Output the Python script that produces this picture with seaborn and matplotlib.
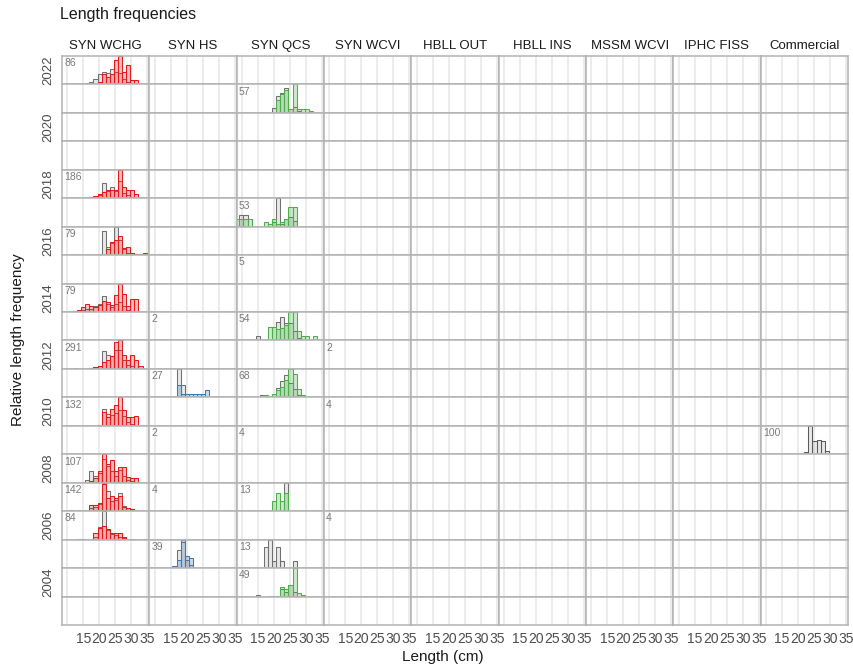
import numpy as np
import matplotlib
matplotlib.use("Agg")
import matplotlib.pyplot as plt
import seaborn as sns

sns.set_theme(style="whitegrid")
plt.rcParams["font.family"] = ["Liberation Sans", "DejaVu Sans"]

surveys = ["SYN WCHG", "SYN HS", "SYN QCS", "SYN WCVI", "HBLL OUT",
           "HBLL INS", "MSSM WCVI", "IPHC FISS", "Commercial"]
years = list(range(2022, 2002, -1))
survey_colours = ["#E41A1C", "#377EB8", "#4DAF4A", "#984EA3", "#FF7F00",
                  "#FFD92F", "#A65628", "#F781BF", "#8c8c8c"]
female_colour = "#8c8c8c"

# lower edge of each length bin (cm)
length_bins = [7.8, 9.1, 10.4, 11.7, 13.0, 14.2, 15.5, 16.8, 18.1, 19.4, 20.7,
               22.0, 23.2, 24.5, 25.8, 27.1, 28.4, 29.7, 30.9, 32.2, 33.5, 34.8]
bin_width = 1.285

# relative frequency per bin, males (m) and females (f)
wchg_2022_m = [0,0,0,0,0,0,0,0,0,8,35,25,35,85,100,45,70,15,15,0,0,0]
wchg_2022_f = [0,0,0,0,0,0,6,8,20,35,45,40,55,45,40,20,10,0,0,0,0,0]
wchg_2018_m = [0,0,0,0,0,0,0,3,8,15,22,28,28,30,100,40,28,28,15,0,0,0]
wchg_2018_f = [0,0,0,0,0,0,0,0,0,10,55,25,38,25,60,20,10,5,0,0,0,0]
wchg_2016_m = [0,0,0,0,0,0,0,0,0,0,0,20,45,55,68,25,30,8,5,0,8,0]
wchg_2016_f = [0,0,0,0,0,0,0,0,0,5,85,30,42,100,55,20,8,8,5,3,0,0]
wchg_2014_m = [0,0,0,0,7,18,28,22,18,25,40,37,25,60,100,62,20,45,45,0,0,0]
wchg_2014_f = [0,0,0,4,5,8,10,12,20,30,55,30,18,30,35,20,8,0,0,0,0,0]
wchg_2012_m = [0,0,0,0,0,0,0,4,7,12,25,30,45,95,100,50,32,48,32,12,0,0]
wchg_2012_f = [0,0,0,3,0,0,0,5,6,10,62,48,45,65,65,30,15,10,5,0,0,0]
wchg_2010_m = [0,0,0,0,0,0,0,0,0,4,48,30,58,75,100,55,30,30,33,0,0,0]
wchg_2010_f = [0,0,0,0,0,0,0,0,0,3,60,40,38,45,55,35,15,8,0,0,0,0]
wchg_2008_m = [0,0,0,0,0,0,0,5,15,40,100,65,80,42,55,55,20,15,15,0,0,0]
wchg_2008_f = [0,0,0,0,0,0,8,42,25,35,85,60,40,25,45,25,10,5,0,0,0,0]
wchg_2007_m = [0,0,3,0,3,0,0,22,22,30,95,45,55,45,55,15,10,8,0,0,0,0]
wchg_2007_f = [0,0,0,0,0,0,3,10,15,25,100,72,35,40,65,20,10,8,0,0,0,0]
wchg_2006_m = [0,0,0,0,0,3,0,0,25,40,48,36,25,25,22,8,0,3,0,0,0,0]
wchg_2006_f = [0,0,0,0,3,3,0,0,10,45,100,35,20,15,10,5,0,0,0,0,3,0]
hs_2011_m = [0,0,0,0,0,0,0,45,12,12,12,12,12,12,25,0,0,0,0,0,0,0]
hs_2011_f = [0,0,0,0,0,0,0,100,45,0,0,0,0,0,0,0,0,0,0,0,0,0]
hs_2005_m = [0,0,0,0,0,0,6,28,100,42,35,0,0,0,0,0,0,0,0,0,0,0]
hs_2005_f = [0,0,0,0,0,0,0,64,90,30,10,0,0,0,0,0,0,0,0,0,0,0]
qcs_2021_m = [0,0,0,0,0,0,0,0,0,0,45,65,80,12,100,12,12,15,5,0,0,0]
qcs_2021_f = [0,0,0,0,0,0,0,0,0,18,58,70,88,15,20,5,0,0,0,0,0,0]
qcs_2017_m = [27,27,27,27,0,0,0,15,10,27,10,15,27,68,68,0,0,0,0,0,0,0]
qcs_2017_f = [0,40,40,0,0,0,0,0,0,15,100,10,27,35,20,0,0,0,0,0,0,0]
qcs_2013_m = [0,0,0,0,0,0,0,0,48,48,40,45,55,100,100,32,15,15,0,15,0,0]
qcs_2013_f = [0,0,0,0,0,15,0,0,0,0,64,82,60,62,35,10,0,0,0,0,0,0]
qcs_2011_m = [0,0,0,0,0,0,0,10,0,12,25,35,62,100,84,28,10,0,0,0,0,0]
qcs_2011_f = [0,0,0,0,0,0,10,5,0,0,33,57,77,50,30,10,0,0,0,0,0,0]
qcs_2007_m = [0,0,0,0,0,0,0,0,0,35,65,35,65,0,0,0,0,0,0,0,0,0]
qcs_2007_f = [0,0,0,0,0,0,0,0,0,0,0,0,100,0,0,0,0,0,0,0,0,0]
qcs_2005_m = [0,0,0,0,0,0,0,0,0,0,0,0,0,0,0,0,0,0,0,0,0,0]
qcs_2005_f = [0,0,0,0,0,0,0,75,100,25,75,25,0,0,25,0,0,0,0,0,0,0]
qcs_2004_m = [0,0,0,0,0,0,0,0,0,0,3,32,25,42,100,12,5,0,0,0,0,0]
qcs_2004_f = [0,0,0,0,0,4,0,0,3,3,3,25,15,40,15,0,0,0,0,0,0,0]
comm_2009 = [0,0,0,0,0,0,0,0,0,2,2,8,100,48,50,48,10,2,2,0,0,0]

# survey, year, number of fish, males, females
cells = [
    ("SYN WCHG", 2022, 86, wchg_2022_m, wchg_2022_f),
    ("SYN WCHG", 2018, 186, wchg_2018_m, wchg_2018_f),
    ("SYN WCHG", 2016, 79, wchg_2016_m, wchg_2016_f),
    ("SYN WCHG", 2014, 79, wchg_2014_m, wchg_2014_f),
    ("SYN WCHG", 2012, 291, wchg_2012_m, wchg_2012_f),
    ("SYN WCHG", 2010, 132, wchg_2010_m, wchg_2010_f),
    ("SYN WCHG", 2008, 107, wchg_2008_m, wchg_2008_f),
    ("SYN WCHG", 2007, 142, wchg_2007_m, wchg_2007_f),
    ("SYN WCHG", 2006, 84, wchg_2006_m, wchg_2006_f),
    ("SYN HS", 2013, 2, None, None),
    ("SYN HS", 2011, 27, hs_2011_m, hs_2011_f),
    ("SYN HS", 2009, 2, None, None),
    ("SYN HS", 2007, 4, None, None),
    ("SYN HS", 2005, 39, hs_2005_m, hs_2005_f),
    ("SYN QCS", 2021, 57, qcs_2021_m, qcs_2021_f),
    ("SYN QCS", 2017, 53, qcs_2017_m, qcs_2017_f),
    ("SYN QCS", 2015, 5, None, None),
    ("SYN QCS", 2013, 54, qcs_2013_m, qcs_2013_f),
    ("SYN QCS", 2011, 68, qcs_2011_m, qcs_2011_f),
    ("SYN QCS", 2009, 4, None, None),
    ("SYN QCS", 2007, 13, qcs_2007_m, qcs_2007_f),
    ("SYN QCS", 2005, 13, qcs_2005_m, qcs_2005_f),
    ("SYN QCS", 2004, 49, qcs_2004_m, qcs_2004_f),
    ("SYN WCVI", 2012, 2, None, None),
    ("SYN WCVI", 2010, 4, None, None),
    ("SYN WCVI", 2006, 4, None, None),
    ("Commercial", 2009, 100, None, comm_2009),
]

edges = np.append(length_bins, length_bins[-1] + bin_width).tolist()
centres = np.array(length_bins) + bin_width / 2


def draw_hist(ax, values, colour, edge, peak, alpha):
    vals = np.asarray(values, dtype=float)
    keep = vals > 0
    if not keep.any():
        return
    sns.histplot(x=list(centres[keep]), weights=list(vals[keep] / peak), bins=edges,
                 color=colour, edgecolor=edge, alpha=alpha, linewidth=0.75, ax=ax)
    for p in list(ax.patches):
        if p.get_height() == 0:
            p.remove()


fig = plt.figure(figsize=(8.54, 6.69), dpi=100)
gs = fig.add_gridspec(len(years), len(surveys), left=62 / 854, right=848 / 854,
                      top=1 - 56 / 669, bottom=1 - 625 / 669, hspace=0, wspace=0)
axes = gs.subplots(sharex=True)

for survey, year, n, male, female in cells:
    r, c = years.index(year), surveys.index(survey)
    ax = axes[r, c]
    if male is not None or female is not None:
        peak = max(max(male or [0]), max(female or [0]))
        if female is not None:
            edge = "#5a5a5a" if survey == "Commercial" else "#707070"
            draw_hist(ax, female, female_colour, edge, peak, 0.2)
        if male is not None:
            draw_hist(ax, male, survey_colours[c], survey_colours[c], peak, 0.28)
    ax.text(0.025, 0.92, str(n), transform=ax.transAxes, ha="left", va="top",
            fontsize=7.5, color="#7a7a7a")

for r, year in enumerate(years):
    for c, survey in enumerate(surveys):
        ax = axes[r, c]
        ax.set_xlim(8.3, 35.6)
        ax.set_ylim(0, 1)
        ax.set_yticks([])
        ax.set_xlabel("")
        ax.set_ylabel("")
        ax.grid(axis="x", color="#ebebeb", linewidth=1.3)
        ax.grid(axis="y", visible=False)
        for s in ax.spines.values():
            s.set_visible(True)
            s.set_color("#b3b3b3")
            s.set_linewidth(1.1)
        ax.tick_params(axis="x", length=0)
        if r == 0:
            ax.set_title(survey, fontsize=9.5, pad=5, color="#1a1a1a")
    if year % 2 == 0:
        pos = axes[r, 0].get_position()
        fig.text(48 / 854, (pos.y0 + pos.y1) / 2, str(year), rotation=90,
                 ha="center", va="center", fontsize=9.5, color="#4d4d4d")

axes[0, 0].set_xticks([10, 15, 20, 25, 30, 35])
axes[0, 0].set_xticklabels(["", "15", "20", "25", "30", "35"])
for ax in axes[-1]:
    ax.tick_params(axis="x", length=3, width=1, color="#b3b3b3", labelsize=10,
                   labelcolor="#4d4d4d", pad=2, labelbottom=True)

fig.text(60 / 854, 1 - 14 / 669, "Length frequencies", fontsize=11.5,
         ha="left", va="center", color="#1a1a1a")
fig.text(443 / 854, 1 - 657 / 669, "Length (cm)", fontsize=11,
         ha="center", va="center", color="#1a1a1a")
fig.text(18 / 854, 1 - 340 / 669, "Relative length frequency", fontsize=11,
         rotation=90, ha="center", va="center", color="#1a1a1a")

fig.savefig("out.png", dpi=100)
